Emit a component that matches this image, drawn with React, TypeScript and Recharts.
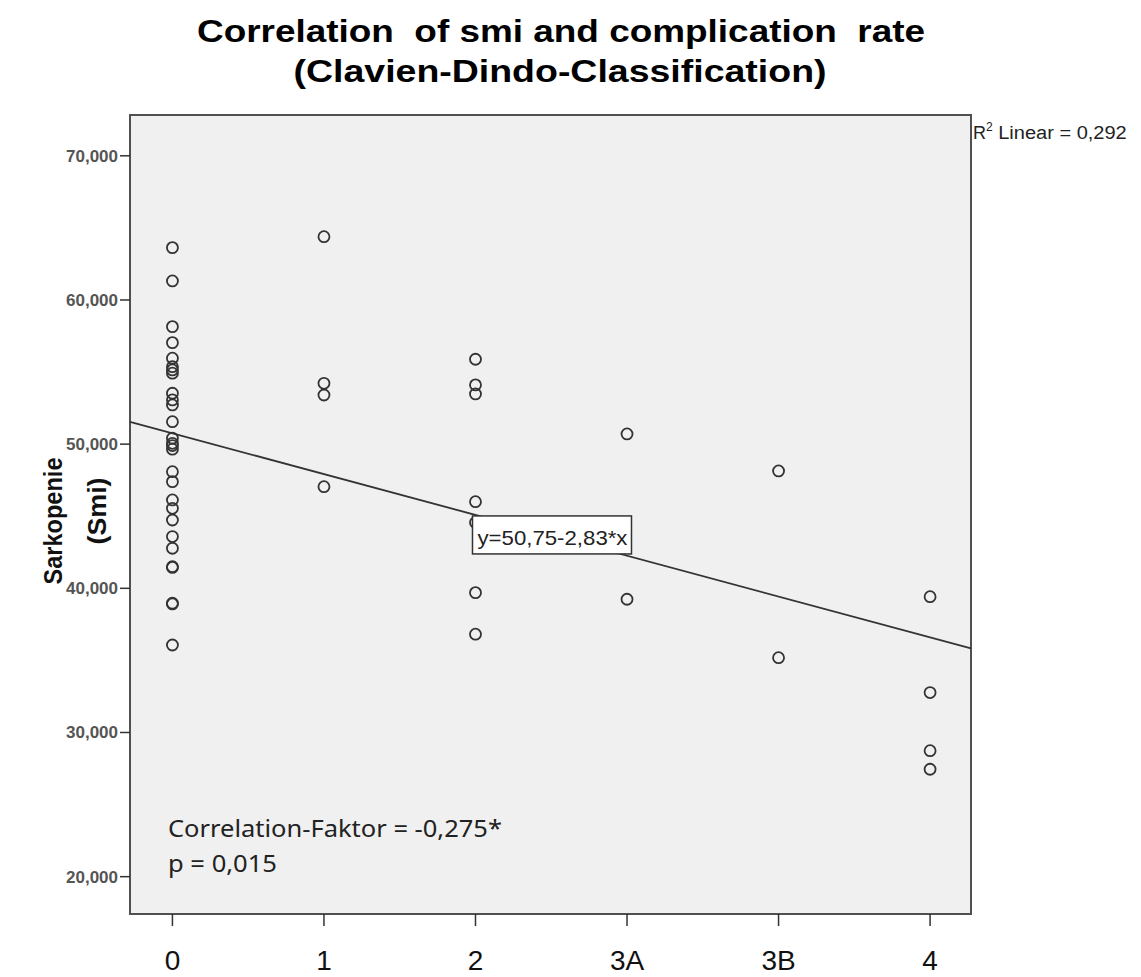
import React from "react";
import {
  ComposedChart,
  Scatter,
  XAxis,
  YAxis,
  ReferenceArea,
  ReferenceLine,
  ReferenceDot,
} from "recharts";

// Clavien-Dindo grade (x index) and SMI per patient
const categories = ["0", "1", "2", "3A", "3B", "4"];

const grade0 = [
  63.63, 61.32, 58.15, 57.04, 55.96, 55.37, 55.15, 54.92, 53.53, 53.07, 52.72,
  51.56, 50.41, 50.06, 49.9, 49.65, 48.09, 47.4, 46.13, 45.55, 44.74, 43.59,
  42.78, 41.5, 41.45, 38.97, 38.92, 36.07,
];
const grade1 = [64.39, 54.22, 53.41, 47.05];
const grade2 = [55.89, 54.11, 53.48, 46.01, 44.56, 39.7, 36.82];
const grade3A = [50.71, 39.24];
const grade3B = [48.14, 35.19];
const grade4 = [39.42, 32.77, 28.74, 27.45];

const groups = [grade0, grade1, grade2, grade3A, grade3B, grade4];

const yTicks = [20, 30, 40, 50, 60, 70];
const xTicks = [0, 1, 2, 3, 4, 5];

// linear fit as printed on the chart
const intercept = 50.75;
const slope = -2.83;
const eqLabel = "y=50,75-2,83*x";
const r2Label = " Linear = 0,292";
const corrLabel = "Correlation-Faktor = -0,275*";
const pLabel = "p = 0,015";

const X_MIN = -0.28;
const X_MAX = 5.27;
const Y_MIN = 17.41;
const Y_MAX = 72.83;

const points = groups.flatMap((vals, i) => vals.map((v) => ({ x: i, y: v })));

const fmtY = (v: number) => v.toFixed(3).replace(".", ",");

const YTick = (props: any) => {
  const { x, y, payload } = props;
  return (
    <text
      x={x}
      y={y}
      dy={6}
      textAnchor="end"
      fontSize={17}
      fontWeight="bold"
      fill="#555"
      textLength={52}
      lengthAdjust="spacingAndGlyphs"
      fontFamily="Liberation Sans, Arial, sans-serif"
    >
      {fmtY(payload.value)}
    </text>
  );
};

const XTick = (props: any) => {
  const { x, y, payload } = props;
  return (
    <text x={x} y={y} dy={42} textAnchor="middle" fontSize={28} fill="#111" fontFamily="Liberation Sans, Arial, sans-serif">
      {categories[payload.value]}
    </text>
  );
};

const Ring = (props: any) => (
  <circle cx={props.cx} cy={props.cy} r={5.5} fill="none" stroke="#333" strokeWidth={1.8} />
);

const EqBox = (props: any) => {
  const { cx, cy } = props;
  return (
    <g>
      <rect x={cx - 3} y={cy + 1} width={159} height={38} fill="#fff" stroke="#333" strokeWidth={1.5} />
      <text
        x={cx + 2}
        y={cy + 30}
        fontSize={21}
        fill="#222"
        textLength={150}
        lengthAdjust="spacingAndGlyphs"
        fontFamily="Liberation Sans, Arial, sans-serif"
      >
        {eqLabel}
      </text>
    </g>
  );
};

export default function App() {
  return (
    <div style={{ position: "absolute", left: 0, top: 0, width: 1141, height: 977, background: "#fff" }}>
      <ComposedChart width={1141} height={977} margin={{ top: 115, right: 170, bottom: 3, left: 30 }}>
        <XAxis
          type="number"
          dataKey="x"
          domain={[X_MIN, X_MAX]}
          allowDataOverflow
          ticks={xTicks}
          tick={<XTick />}
          tickSize={12}
          axisLine={false}
          tickLine={{ stroke: "#333", strokeWidth: 1.5 }}
          height={60}
        />
        <YAxis
          type="number"
          dataKey="y"
          domain={[Y_MIN, Y_MAX]}
          allowDataOverflow
          ticks={yTicks}
          tick={<YTick />}
          tickSize={10}
          axisLine={false}
          tickLine={{ stroke: "#333", strokeWidth: 1.5 }}
          width={100}
        />
        <ReferenceArea
          x1={X_MIN}
          x2={X_MAX}
          y1={Y_MIN}
          y2={Y_MAX}
          fill="#f0f0f0"
          fillOpacity={1}
          stroke="#505050"
          strokeWidth={2}
        />
        <ReferenceLine
          segment={[
            { x: X_MIN, y: intercept + slope * X_MIN },
            { x: X_MAX, y: intercept + slope * X_MAX },
          ]}
          stroke="#333"
          strokeWidth={1.8}
        />
        <Scatter data={points} shape={<Ring />} isAnimationActive={false} />
        <ReferenceDot x={2} y={intercept + slope * 2} shape={<EqBox />} zIndex={700} />
      </ComposedChart>
      <svg
        width={1141}
        height={977}
        style={{ position: "absolute", left: 0, top: 0, pointerEvents: "none" }}
        fontFamily="Liberation Sans, Arial, sans-serif"
      >
        <text
          x={561}
          y={42}
          fontSize={32}
          fontWeight="bold"
          textAnchor="middle"
          textLength={728}
          lengthAdjust="spacingAndGlyphs"
          fill="#000"
          style={{ whiteSpace: "pre" }}
        >
          Correlation  of smi and complication  rate
        </text>
        <text x={560} y={82} fontSize={32} fontWeight="bold" textAnchor="middle" textLength={533} lengthAdjust="spacingAndGlyphs" fill="#000">
          (Clavien-Dindo-Classification)
        </text>
        <text
          transform="translate(62,521) rotate(-90)"
          fontSize={25}
          fontWeight="bold"
          textAnchor="middle"
          textLength={127}
          lengthAdjust="spacingAndGlyphs"
          fill="#111"
        >
          Sarkopenie
        </text>
        <text
          transform="translate(106,511) rotate(-90)"
          fontSize={25}
          fontWeight="bold"
          textAnchor="middle"
          textLength={67}
          lengthAdjust="spacingAndGlyphs"
          fill="#111"
        >
          (Smi)
        </text>
        <text x={973} y={139} fontSize={18} fill="#222">
          R<tspan dy={-8} fontSize={12}>2</tspan>
          <tspan dy={8} textLength={134} lengthAdjust="spacingAndGlyphs">{r2Label}</tspan>
        </text>
        <text x={168} y={837} fontSize={23} fill="#222" fontFamily="Noto Sans, sans-serif" textLength={334} lengthAdjust="spacingAndGlyphs">
          {corrLabel}
        </text>
        <text x={168} y={872} fontSize={23} fill="#222" fontFamily="Noto Sans, sans-serif" textLength={109} lengthAdjust="spacingAndGlyphs">
          {pLabel}
        </text>
      </svg>
    </div>
  );
}
